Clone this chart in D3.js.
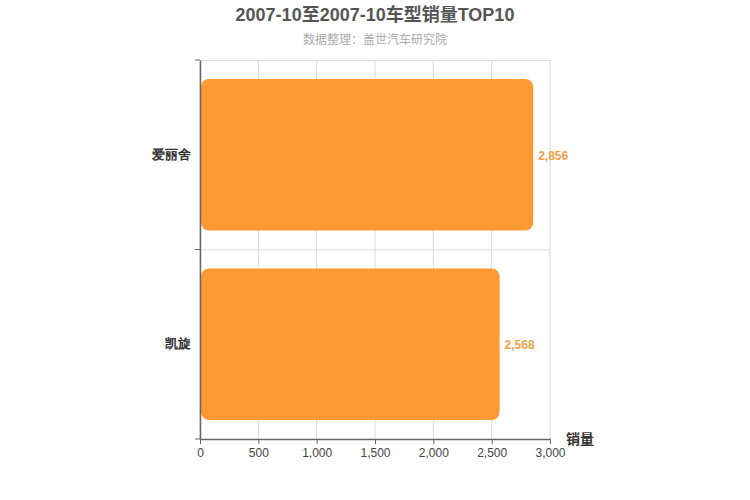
<!DOCTYPE html>
<html><head><meta charset="utf-8">
<script src="https://cdn.jsdelivr.net/npm/d3@7/dist/d3.min.js"></script>
<style>body{margin:0;background:#fff;}svg{display:block;font-family:"Liberation Sans","Noto Sans CJK SC",sans-serif;}</style>
</head><body>
<svg id="c" width="750" height="500"></svg>
<script>
const categories = ["爱丽舍", "凯旋"];
const sales = [2856, 2568];
const xTicks = [0, 500, 1000, 1500, 2000, 2500, 3000];
const title = "2007-10至2007-10车型销量TOP10";
const subtitle = "数据整理：盖世汽车研究院";
const axisName = "销量";

const svg = d3.select("#c");
const pL = 200, pR = 550, pT = 60, pB = 439;
const x = d3.scaleLinear().domain([0, 3000]).range([pL, pR]);
const yb = d3.scaleBand().domain(categories).range([pT, pB]);
const barOff = yb.bandwidth() * 0.1, barH = yb.bandwidth() * 0.8;

svg.append("text").attr("x", 375).attr("y", 21).attr("text-anchor", "middle")
  .attr("font-size", 18).attr("font-weight", "bold").attr("fill", "#555").text(title);
svg.append("text").attr("x", 375).attr("y", 44).attr("text-anchor", "middle")
  .attr("font-size", 12).attr("fill", "#aaa").text(subtitle);

// grid
const g = svg.append("g");
g.selectAll("line.v").data(xTicks).join("line")
  .attr("x1", d => x(d)).attr("x2", d => x(d)).attr("y1", pT).attr("y2", pB)
  .attr("stroke", "#d9d9d9").attr("stroke-width", 1);
const bounds = [pT, ...categories.slice(1).map(c => yb(c))];
g.selectAll("line.h").data(bounds).join("line")
  .attr("x1", pL).attr("x2", pR).attr("y1", d => d + 0.5).attr("y2", d => d + 0.5)
  .attr("stroke", "#d9d9d9");

// bars
svg.selectAll("rect.bar").data(categories).join("rect")
  .attr("x", x(0) + 1).attr("y", d => yb(d) + barOff)
  .attr("width", (d, i) => x(sales[i]) - x(0) - 1).attr("height", barH)
  .attr("rx", 8).attr("ry", 8).attr("fill", "#ff9933");

svg.selectAll("text.val").data(categories).join("text")
  .attr("x", (d, i) => x(sales[i]) + 5).attr("y", d => yb(d) + yb.bandwidth() / 2 + 5)
  .attr("font-size", 12).attr("font-weight", "bold").attr("fill", "#f5a04a")
  .text((d, i) => d3.format(",")(sales[i]));

// x axis
const xa = svg.append("g").attr("transform", `translate(0,${pB})`)
  .call(d3.axisBottom(x).tickValues(xTicks).tickFormat(d3.format(",")).tickSize(5).tickSizeOuter(0));
xa.select(".domain").attr("stroke", "#666").attr("stroke-width", 1.5);
xa.selectAll(".tick line").attr("stroke", "#666");
xa.selectAll("text").attr("font-size", 12).attr("fill", "#444").attr("font-family", "Liberation Sans, Arial, sans-serif").attr("dy", "0.85em");

// y axis
const ya = svg.append("g").attr("transform", `translate(${pL},0)`)
  .call(d3.axisLeft(yb).tickSize(0).tickPadding(9));
ya.select(".domain").attr("stroke", "#666").attr("stroke-width", 1.5);
ya.selectAll("text").attr("font-size", 13).attr("font-weight", "bold").attr("fill", "#333");
ya.selectAll("line.bt").data([pT, ...categories.map(c => yb(c) + yb.bandwidth())]).join("line")
  .attr("x1", -5).attr("x2", 0).attr("y1", d => d).attr("y2", d => d).attr("stroke", "#666");

svg.append("text").attr("x", 566).attr("y", 444).attr("font-size", 14).attr("font-weight", "bold")
  .attr("fill", "#333").text(axisName);
</script>
</body></html>
